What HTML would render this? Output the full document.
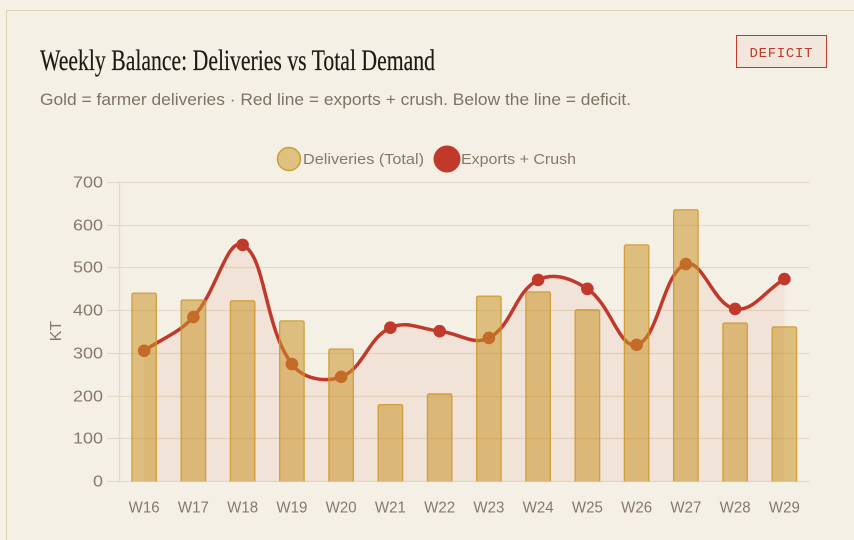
<!DOCTYPE html>
<html lang="en">
<head>
<meta charset="utf-8">
<title>Weekly Balance</title>
<style>
html,body{margin:0;padding:0;width:854px;height:540px;overflow:hidden;background:#f6f1e7;}
svg{position:absolute;left:0;top:0;display:block;}
.sans{font-family:"Liberation Sans",sans-serif;}
</style>
</head>
<body>
<svg id="chart" width="854" height="540" viewBox="0 0 854 540" xmlns="http://www.w3.org/2000/svg">
  <rect x="6.5" y="10.5" width="860" height="540" fill="#f5f0e6" stroke="#d9cfb6" stroke-width="1"/>
  <text x="40" y="70" textLength="395" lengthAdjust="spacingAndGlyphs" font-family="'Liberation Serif',serif" font-size="30" fill="#1f1a14" stroke="#1f1a14" stroke-width="0.2">Weekly Balance: Deliveries vs Total Demand</text>
  <text x="40" y="105" textLength="591" lengthAdjust="spacingAndGlyphs" class="sans" font-size="17" fill="#7d7364">Gold = farmer deliveries · Red line = exports + crush. Below the line = deficit.</text>
  <g>
    <rect x="736.5" y="35.5" width="90" height="32" fill="#f2e7dd" stroke="#c0392b" stroke-width="1"/>
    <text x="749.5" y="57" letter-spacing="0.7" font-family="'Liberation Mono',monospace" font-size="14" fill="#c0392b">DEFICIT</text>
  </g>
  <g>
    <g>
      <circle cx="289" cy="159" r="11.5" fill="#dfc182" stroke="#cf9c35" stroke-width="1.5"/>
      <text x="303" y="164" textLength="121" lengthAdjust="spacingAndGlyphs" class="sans" font-size="15" fill="#85796a">Deliveries (Total)</text>
    </g>
    <g>
      <circle cx="447" cy="159" r="13.5" fill="#c0392b"/>
      <text x="461" y="164" textLength="115" lengthAdjust="spacingAndGlyphs" class="sans" font-size="15" fill="#85796a">Exports + Crush</text>
    </g>
  </g>
  <text transform="translate(61,331) rotate(-90)" text-anchor="middle" class="sans" font-size="16" fill="#85796a">KT</text>
  <g id="grid"></g>
  <g id="yticks"></g>
  <g id="xticks"></g>
  <g id="linefill"></g>
  <g id="bars"></g>
</svg>
<script>
const weeks = ['W16','W17','W18','W19','W20','W21','W22','W23','W24','W25','W26','W27','W28','W29'];
const deliveries = [441,425,423,376,310,180,205,434,444,402,554,636,371,362];
const exportsCrush = [306,385,554,275,245,360,352,336,472,451,320,509,404,474];
const yTicks = [0,100,200,300,400,500,600,700];

const NS = 'http://www.w3.org/2000/svg';
const left = 119.5, right = 809, top0 = 182.5, bottom = 481.5, yMax = 700;
const band = (right - left) / weeks.length;
const xScale = i => left + band * (i + 0.5);
const yScale = v => bottom - (v / yMax) * (bottom - top0);
function make(tag, attrs, parent) {
  const el = document.createElementNS(NS, tag);
  for (const k in attrs) el.setAttribute(k, attrs[k]);
  parent.appendChild(el);
  return el;
}
const gridG = document.getElementById('grid');
const yG = document.getElementById('yticks');
const xG = document.getElementById('xticks');
const lineG = document.getElementById('linefill');
const barG = document.getElementById('bars');

yTicks.forEach(t => {
  const y = Math.round(yScale(t) - 0.5) + 0.5;
  const line = make('line', {x1: 107, x2: right, y1: y, y2: y, stroke: '#e3dbc7', 'stroke-width': 1.3}, gridG);
  
  
  const label = make('text', {x: 103, y: y + 5.2, 'text-anchor': 'end', 'class': 'sans', 'font-size': 16, fill: '#85796a', textLength: String(t).length * 10, lengthAdjust: 'spacingAndGlyphs'}, yG);
  label.textContent = t;
  
  
});
const axisLine = make('line', {x1: left, x2: left, y1: top0, y2: bottom, stroke: '#e3dbc7', 'stroke-width': 1.3}, gridG);



weeks.forEach((w, i) => {
  const label = make('text', {x: xScale(i), y: 512.5, 'text-anchor': 'middle', 'class': 'sans', 'font-size': 16, fill: '#85796a', textLength: 31, lengthAdjust: 'spacingAndGlyphs'}, xG);
  label.textContent = w;
  
  
});

const pts = exportsCrush.map((v, i) => ({x: xScale(i), y: yScale(v)}));
const tension = 0.4;
function controls(i) {
  const cur = pts[i], prev = pts[i - 1] || cur, next = pts[i + 1] || cur;
  const d01 = Math.hypot(cur.x - prev.x, cur.y - prev.y);
  const d12 = Math.hypot(next.x - cur.x, next.y - cur.y);
  const tot = d01 + d12 || 1;
  const fa = tension * d01 / tot, fb = tension * d12 / tot;
  return {
    px: cur.x - fa * (next.x - prev.x), py: cur.y - fa * (next.y - prev.y),
    nx: cur.x + fb * (next.x - prev.x), ny: cur.y + fb * (next.y - prev.y)
  };
}
let d = 'M' + pts[0].x + ' ' + pts[0].y;
for (let i = 1; i < pts.length; i++) {
  const a = controls(i - 1), b = controls(i);
  d += ' C' + a.nx + ' ' + a.ny + ' ' + b.px + ' ' + b.py + ' ' + pts[i].x + ' ' + pts[i].y;
}
const area = make('path', {d: d + ' L' + pts[pts.length - 1].x + ' ' + bottom + ' L' + pts[0].x + ' ' + bottom + ' Z', fill: 'rgba(192,57,43,0.07)'}, lineG);


const line = make('path', {d: d, fill: 'none', stroke: '#c0392b', 'stroke-width': 3.5}, lineG);


pts.forEach(p => {
  const c = make('circle', {cx: p.x, cy: p.y, r: 6.3, fill: '#c0392b'}, lineG);
  
  
});

const barW = 24.5, r = 2;
deliveries.forEach((v, i) => {
  const x0 = xScale(i) - barW / 2, x1 = x0 + barW, y0 = yScale(v);
  const fill = make('path', {d: 'M' + x0 + ' ' + bottom + ' V' + (y0 + r) + ' Q' + x0 + ' ' + y0 + ' ' + (x0 + r) + ' ' + y0 + ' H' + (x1 - r) + ' Q' + x1 + ' ' + y0 + ' ' + x1 + ' ' + (y0 + r) + ' V' + bottom, fill: 'rgba(201,150,40,0.55)', stroke: 'rgba(205,150,40,0.85)', 'stroke-width': 1.3}, barG);
  
  
});
</script>
</body>
</html>
